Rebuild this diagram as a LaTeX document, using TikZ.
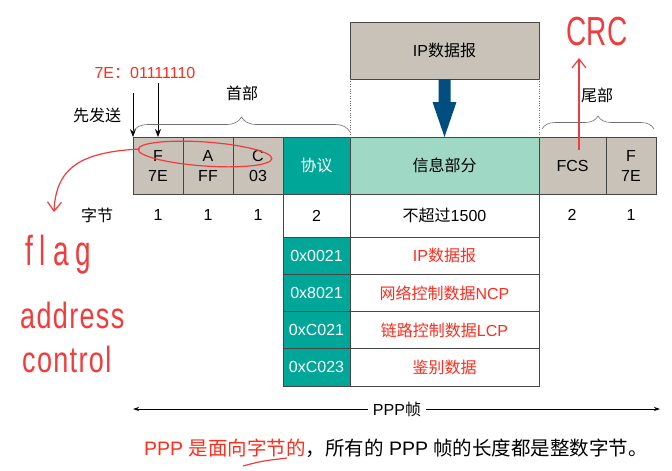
\documentclass[tikz,border=0pt]{standalone}
\usepackage{fontspec}
\usepackage{graphicx}
\setmainfont{Liberation Sans}
\newfontfamily\cjk{Noto Sans CJK SC}
\newfontfamily\handA[LetterSpace=25]{Liberation Sans}
\newfontfamily\handB[LetterSpace=5]{Liberation Sans}
\usetikzlibrary{arrows.meta,decorations.pathreplacing}
\definecolor{boxgray}{RGB}{201,194,185}
\definecolor{pppteal}{RGB}{0,166,152}
\definecolor{pppgreen}{RGB}{160,216,198}
\definecolor{arrowblue}{RGB}{0,78,128}
\definecolor{txtred}{RGB}{255,45,30}
\definecolor{handred}{RGB}{240,60,60}
\definecolor{linegray}{RGB}{70,70,70}
\definecolor{bracegray}{RGB}{110,110,110}
\begin{document}
\begin{tikzpicture}[x=1pt,y=-1pt,
  lbl/.style={font=\fontsize{16}{20}\selectfont},
  cell/.style={draw=linegray,line width=0.8pt,anchor=north west,inner sep=0pt,outer sep=0pt,align=center,lbl},
  graycell/.style={cell,fill=boxgray},
  tealcell/.style={cell,fill=pppteal,text=white,minimum width=67pt,minimum height=37.25pt},
  redcell/.style={cell,fill=white,text=txtred,minimum width=189pt,minimum height=37.25pt},
  plain/.style={lbl,inner sep=1pt},
  hand/.style={text=handred,inner sep=0pt},
  handline/.style={draw=handred,line width=1.2pt},
  brc/.style={draw=bracegray,line width=0.6pt,decorate},
  blk/.style={line width=0.9pt,-{Stealth[length=8pt,width=6pt]}}]
\useasboundingbox (0,0) rectangle (672,471);
\fill[white] (0,0) rectangle (672,471);

% main frame row
\node[graycell,minimum width=50pt,minimum height=57pt] (f1) at (133,137) {F\\7E};
\node[graycell,minimum width=50pt,minimum height=57pt] (a1) at (183,137) {A\\FF};
\node[graycell,minimum width=50pt,minimum height=57pt] (c1) at (233,137) {C\\03};
\node[cell,fill=pppteal,text=white,minimum width=67pt,minimum height=57pt] (proto) at (283,137) {\cjk 协议};
\node[cell,fill=pppgreen,minimum width=189pt,minimum height=57pt] (info) at (350,137) {\cjk 信息部分};
\node[graycell,minimum width=67pt,minimum height=57pt] (fcs) at (539,137) {FCS};
\node[graycell,minimum width=50pt,minimum height=57pt] (f2) at (606,137) {F\\7E};
\node[graycell,minimum width=189pt,minimum height=57pt] (ip) at (350,22) {IP{\cjk 数据报}};

% length row
\node[cell,fill=white,minimum width=67pt,minimum height=43pt] (len2) at (283,194) {2};
\node[cell,fill=white,minimum width=189pt,minimum height=43pt] (lenmax) at (350,194) {{\cjk 不超过}1500};

% protocol table
\node[tealcell] (p1) at (283,237) {0x0021};
\node[redcell] (d1) at (350,237) {IP{\cjk 数据报}};
\node[tealcell] (p2) at (283,274.25) {0x8021};
\node[redcell] (d2) at (350,274.25) {{\cjk 网络控制数据}NCP};
\node[tealcell] (p3) at (283,311.5) {0xC021};
\node[redcell] (d3) at (350,311.5) {{\cjk 链路控制数据}LCP};
\node[tealcell] (p4) at (283,348.75) {0xC023};
\node[redcell] (d4) at (350,348.75) {\cjk 鉴别数据};

% byte counts
\node[plain] (zj) at (97,215) {\cjk 字节};
\node[plain] (n1) at (158,215) {1};
\node[plain] (n2) at (208,215) {1};
\node[plain] (n3) at (258,215) {1};
\node[plain] (n4) at (572,215) {2};
\node[plain] (n5) at (631,215) {1};

% top labels
\node[plain] (hdr) at (242,93) {\cjk 首部};
\node[plain] (trl) at (597,95) {\cjk 尾部};
\node[plain] (first) at (97,115) {\cjk 先发送};
\node[plain,text=txtred] (flagbits) at (145,73) {7E{\cjk ：}01111110};

\coordinate (s1) at (133,93);
\coordinate (s2) at (158,83);
\draw[blk] (s1) -- (f1.north west);
\draw[blk] (s2) -- (f1.north);

% braces
\draw[brc,decoration={brace,amplitude=15pt}] ([yshift=5pt]f1.north west) -- ([yshift=5pt]proto.north east);
\draw[brc,decoration={brace,amplitude=13pt}] ([xshift=3pt,yshift=8pt]fcs.north west) -- ([xshift=-2pt,yshift=8pt]f2.north east);

% dotted guides and blue arrow
\draw[dotted,bracegray] (ip.south west) -- (info.north west);
\draw[dotted,bracegray] (ip.south east) -- (info.north east);
\fill[arrowblue] ([xshift=-6pt]ip.south) -- ([xshift=6pt]ip.south) -- ++(0,23) -- ++(6,0)
  -- (info.north) -- ++(-12,-35) -- ++(6,0) -- cycle;

% PPP frame arrow
\coordinate (pl) at (133,409);
\coordinate (pr) at (660,409);
\draw[line width=0.8pt,{Stealth[length=6pt,width=4pt]}-{Stealth[length=6pt,width=4pt]}] (pl) -- (pr);
\node[plain,fill=white,inner sep=5pt] (frame) at (397,409) {PPP{\cjk 帧}};

% bottom note
\node[anchor=west,inner sep=0pt,font=\fontsize{19.5}{22}\selectfont] (note) at (144,448)
  {\textcolor{txtred}{PPP {\cjk 是面向字节的}}{\cjk ，所有的} PPP {\cjk 帧的长度都是整数字节。}};

% handwritten annotations
\node[hand,anchor=base] (crc) at (597,45) {\scalebox{1}[1.45]{\fontsize{28}{30}\selectfont CRC}};
\node[hand,anchor=base west] (flagw) at (25,265) {\scalebox{1}[1.5]{\handA\fontsize{28}{30}\selectfont flag}};
\node[hand,anchor=base west] (addrw) at (20,328) {\scalebox{1}[1.35]{\handB\fontsize{27}{28}\selectfont address}};
\node[hand,anchor=base west] (ctrlw) at (22,372) {\scalebox{1}[1.35]{\handB\fontsize{27}{28}\selectfont control}};

\draw[handline,shift={(205,154)},rotate=-4] (0,0) ellipse [x radius=67pt,y radius=12pt];
\coordinate (e1) at (140,149);
\coordinate (e2) at (54,212);
\draw[handline,-{Straight Barb[length=9pt,width=14pt]}] (e1) .. controls (80,152) and (56,168) .. (e2);
\coordinate (cr0) at (579,150);
\coordinate (cr1) at (579,58);
\draw[handline,-{Straight Barb[length=9pt,width=14pt]}] (cr0) -- (cr1);
\draw[handline] (243,466) .. controls (262,461) .. (287,458);
\end{tikzpicture}
\end{document}
